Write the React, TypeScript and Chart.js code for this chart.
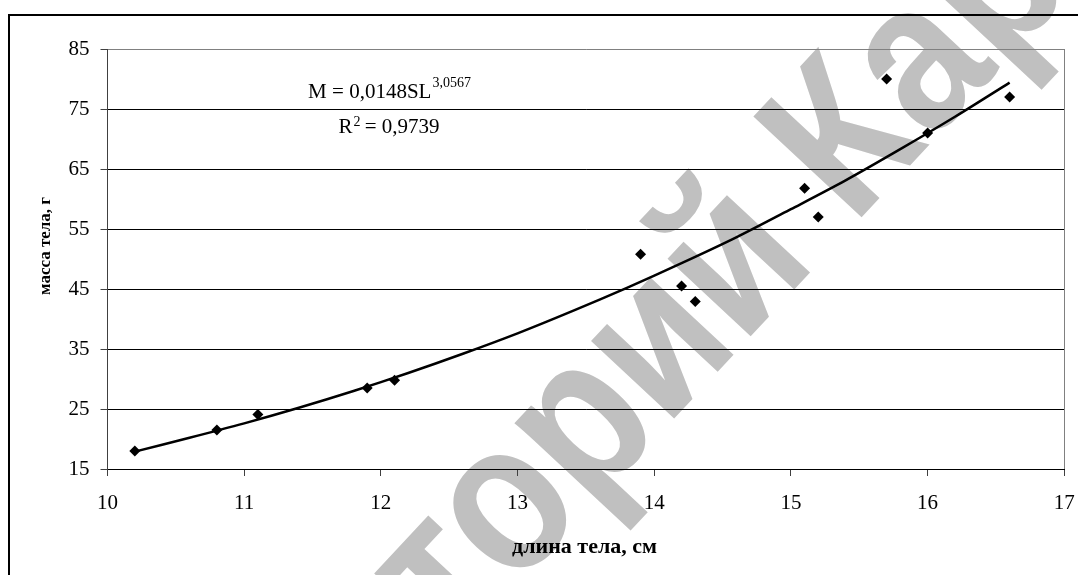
import React, { useEffect, useRef } from 'react';
import { Chart, registerables } from 'chart.js';

Chart.register(...registerables);

// observed data
const bodyLength = [10.2, 10.8, 11.1, 11.9, 12.1, 13.9, 14.2, 14.3, 15.1, 15.2, 15.7, 16.0, 16.6];
const bodyMass = [18.0, 21.5, 24.1, 28.5, 29.8, 50.8, 45.5, 42.9, 61.8, 57.0, 80.0, 71.0, 77.0];

// trend line
const trendLength = [10.2, 10.6, 11.0, 11.4, 11.8, 12.2, 12.6, 13.0, 13.4, 13.8, 14.2, 14.6, 15.0, 15.4, 15.8, 16.2, 16.6];
const trendMass = [17.9, 20.2, 22.6, 25.2, 28.0, 31.0, 34.2, 37.6, 41.3, 45.2, 49.3, 53.6, 58.3, 63.1, 68.3, 73.7, 79.4];

const xTicks = [10, 11, 12, 13, 14, 15, 16, 17];
const yTicks = [15, 25, 35, 45, 55, 65, 75, 85];

const xTitle = 'длина тела, см';
const yTitle = 'масса тела, г';
const eqMain = 'M = 0,0148SL';
const eqExp = '3,0567';
const r2Left = 'R';
const r2Sup = '2';
const r2Right = ' = 0,9739';
const watermarkLeft = 'Репозиторий ';
const watermarkRight = 'КарГУ';

const SERIF = '"Liberation Serif", "Times New Roman", serif';
const SANS = '"Liberation Sans", Arial, sans-serif';

const decorPlugin = {
  id: 'decor',
  beforeDraw(chart: any) {
    const ctx = chart.ctx;
    ctx.save();
    ctx.fillStyle = '#fff';
    ctx.fillRect(0, 0, chart.width, chart.height);
    // watermark, pivot at the centre of the letter "К"
    const size = 215;
    ctx.font = 'bold ' + size + 'px ' + SANS;
    const kw = ctx.measureText('К').width;
    ctx.translate(835, 133);
    ctx.rotate((-47 * Math.PI) / 180);
    ctx.scale(0.85, 1);
    ctx.fillStyle = '#c0c0c0';
    ctx.textBaseline = 'alphabetic';
    const bx = -kw / 2;
    const by = size * 0.716 / 2;
    ctx.textAlign = 'right';
    ctx.fillText(watermarkLeft, bx, by);
    ctx.textAlign = 'left';
    ctx.fillText(watermarkRight, bx, by);
    ctx.restore();
  },
  afterDraw(chart: any) {
    const ctx = chart.ctx;
    const a = chart.chartArea;
    ctx.save();
    // plot area right border
    ctx.strokeStyle = '#808080';
    ctx.lineWidth = 1;
    ctx.beginPath();
    ctx.moveTo(Math.round(a.right) + 0.5, a.top);
    ctx.lineTo(Math.round(a.right) + 0.5, a.bottom);
    ctx.stroke();
    // outer chart border
    ctx.strokeStyle = '#000';
    ctx.lineWidth = 2;
    ctx.beginPath();
    ctx.moveTo(9, chart.height + 5);
    ctx.lineTo(9, 15);
    ctx.lineTo(chart.width + 5, 15);
    ctx.stroke();

    // equation
    ctx.fillStyle = '#000';
    ctx.textBaseline = 'alphabetic';
    ctx.textAlign = 'left';
    const cx = 389;
    ctx.font = '21px ' + SERIF;
    const w1 = ctx.measureText(eqMain).width;
    ctx.font = '14px ' + SERIF;
    const w2 = ctx.measureText(eqExp).width;
    let x0 = cx - (w1 + w2) / 2;
    ctx.font = '21px ' + SERIF;
    ctx.fillText(eqMain, x0, 98);
    ctx.font = '14px ' + SERIF;
    ctx.fillText(eqExp, x0 + w1 + 1, 87);

    ctx.font = '21px ' + SERIF;
    const r1 = ctx.measureText(r2Left).width;
    const r3 = ctx.measureText(r2Right).width;
    ctx.font = '14px ' + SERIF;
    const r2 = ctx.measureText(r2Sup).width;
    x0 = cx - (r1 + r2 + r3) / 2;
    ctx.font = '21px ' + SERIF;
    ctx.fillText(r2Left, x0, 133);
    ctx.font = '14px ' + SERIF;
    ctx.fillText(r2Sup, x0 + r1 + 1, 126);
    ctx.font = '21px ' + SERIF;
    ctx.fillText(r2Right, x0 + r1 + r2, 133);

    // axis titles
    ctx.textAlign = 'center';
    ctx.font = 'bold 22px ' + SERIF;
    ctx.fillText(xTitle, 584.5, 553);
    ctx.font = 'bold 17px ' + SERIF;
    ctx.translate(50, 246);
    ctx.rotate(-Math.PI / 2);
    ctx.fillText(yTitle, 0, 0);
    ctx.restore();
  },
};

export default function App() {
  const ref = useRef<HTMLCanvasElement>(null);
  useEffect(() => {
    if (!ref.current) return;
    const chart = new Chart(ref.current, {
      type: 'scatter',
      data: {
        datasets: [
          {
            label: 'points',
            data: bodyLength.map((x, i) => ({ x, y: bodyMass[i] })),
            pointStyle: 'rectRot',
            pointRadius: 5.5,
            backgroundColor: '#000',
            borderColor: '#000',
            borderWidth: 0,
            showLine: false,
          },
          {
            label: 'trend',
            data: trendLength.map((x, i) => ({ x, y: trendMass[i] })),
            showLine: true,
            pointRadius: 0,
            borderColor: '#000',
            borderWidth: 2.5,
            tension: 0.3,
            fill: false,
          },
        ],
      },
      options: {
        animation: false,
        responsive: true,
        maintainAspectRatio: false,
        layout: { padding: { left: 0, top: 49, right: 0, bottom: 0 } },
        plugins: { legend: { display: false }, tooltip: { enabled: false } },
        scales: {
          x: {
            type: 'linear',
            min: 10,
            max: 17,
            afterBuildTicks: (s: any) => {
              s.ticks = xTicks.map((v) => ({ value: v }));
            },
            afterFit: (s: any) => {
              s.height = 106;
              s.paddingLeft = 0;
              s.paddingRight = 13.7;
            },
            ticks: {
              font: { family: SERIF, size: 21 },
              color: '#000',
              padding: 15,
              maxRotation: 0,
              autoSkip: false,
            },
            grid: { drawOnChartArea: false, drawTicks: true, tickLength: 7, color: '#404040', lineWidth: 1 },
            border: { color: '#000', width: 1 },
          },
          y: {
            type: 'linear',
            min: 15,
            max: 85,
            afterBuildTicks: (s: any) => {
              s.ticks = yTicks.map((v) => ({ value: v }));
            },
            afterFit: (s: any) => {
              s.width = 107.5;
              s.paddingTop = 0;
              s.paddingBottom = 0;
            },
            ticks: {
              font: { family: SERIF, size: 21 },
              color: '#000',
              padding: 11,
              autoSkip: false,
            },
            grid: {
              drawOnChartArea: true,
              drawTicks: true,
              tickLength: 7,
              color: (c: any) => (c.tick && c.tick.value === 85 ? '#808080' : '#000'),
              tickColor: '#404040',
              lineWidth: 1,
            },
            border: { color: '#404040', width: 1 },
          },
        },
      },
      plugins: [decorPlugin],
    });
    return () => chart.destroy();
  }, []);
  return (
    <div style={{ position: 'fixed', left: 0, top: 0, width: 1078, height: 575 }}>
      <canvas ref={ref} />
    </div>
  );
}
